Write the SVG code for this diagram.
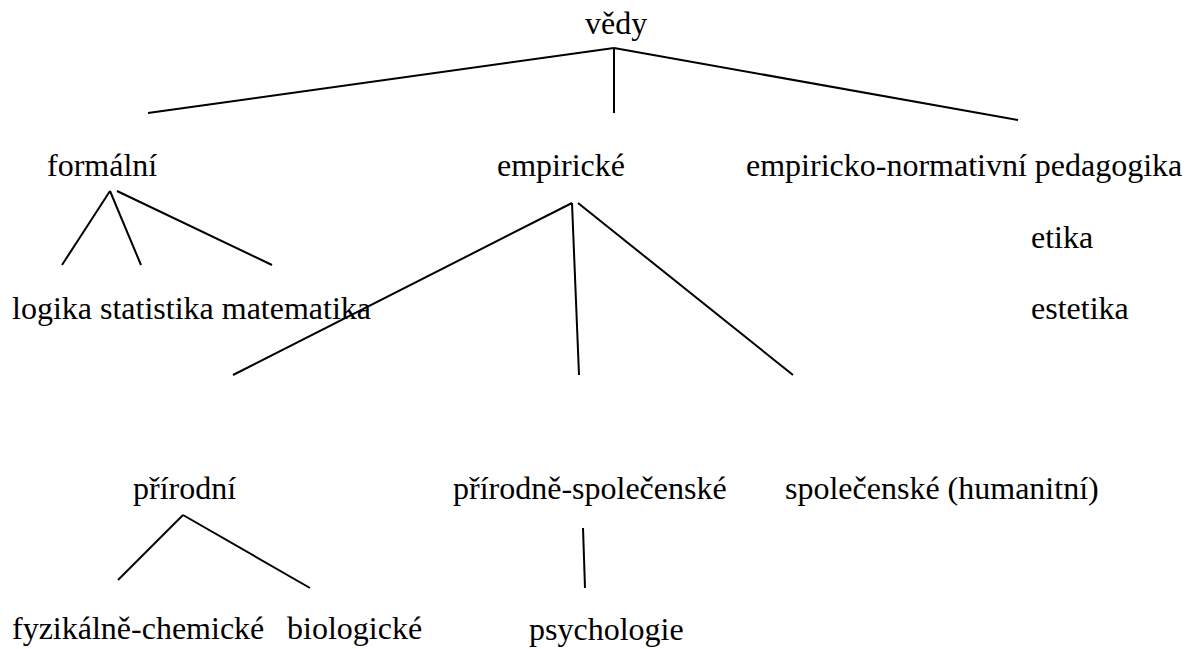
<svg xmlns="http://www.w3.org/2000/svg" width="1188" height="649" viewBox="0 0 1188 649">
<style>
.t{font-family:'Liberation Serif','Times New Roman','DejaVu Serif',serif;font-size:32px;fill:#000}
.c line{stroke:#000;stroke-width:2;fill:none}
</style>
<rect width="1188" height="649" fill="#fff"/>
<g id="connectors" class="c">
<line x1="614" y1="48" x2="148" y2="113"/>
<line x1="614" y1="48" x2="614" y2="113"/>
<line x1="614" y1="48" x2="1018" y2="120"/>
<line x1="110" y1="191" x2="62" y2="265"/>
<line x1="110" y1="191" x2="141" y2="265"/>
<line x1="117" y1="191" x2="272" y2="265"/>
<line x1="572" y1="203" x2="233" y2="375"/>
<line x1="572" y1="203" x2="579" y2="375"/>
<line x1="578" y1="203" x2="793" y2="375"/>
<line x1="183" y1="515" x2="118" y2="580"/>
<line x1="183" y1="515" x2="310" y2="588"/>
<line x1="583" y1="528" x2="585" y2="588"/>
</g>
<g class="t" font-family="Liberation Serif, serif">
<g id="vedy"><text x="585" y="34">vědy</text></g>
<g id="formalni"><text x="47" y="176">formální</text></g>
<g id="empiricke"><text x="497" y="176">empirické</text></g>
<g id="empiricko-normativni"><text x="746" y="176">empiricko-normativní pedagogika</text></g>
<g id="etika"><text x="1031" y="248">etika</text></g>
<g id="estetika"><text x="1031" y="319">estetika</text></g>
<g id="formalni-children"><text x="12" y="319">logika statistika matematika</text></g>
<g id="prirodni"><text x="133" y="499">přírodní</text></g>
<g id="prirodne-spolecenske"><text x="453" y="499">přírodně-společenské</text></g>
<g id="spolecenske"><text x="785" y="499">společenské (humanitní)</text></g>
<g id="fyzikalne-chemicke"><text x="12" y="639">fyzikálně-chemické</text></g>
<g id="biologicke"><text x="287" y="639">biologické</text></g>
<g id="psychologie"><text x="529" y="640">psychologie</text></g>
</g>
</svg>
